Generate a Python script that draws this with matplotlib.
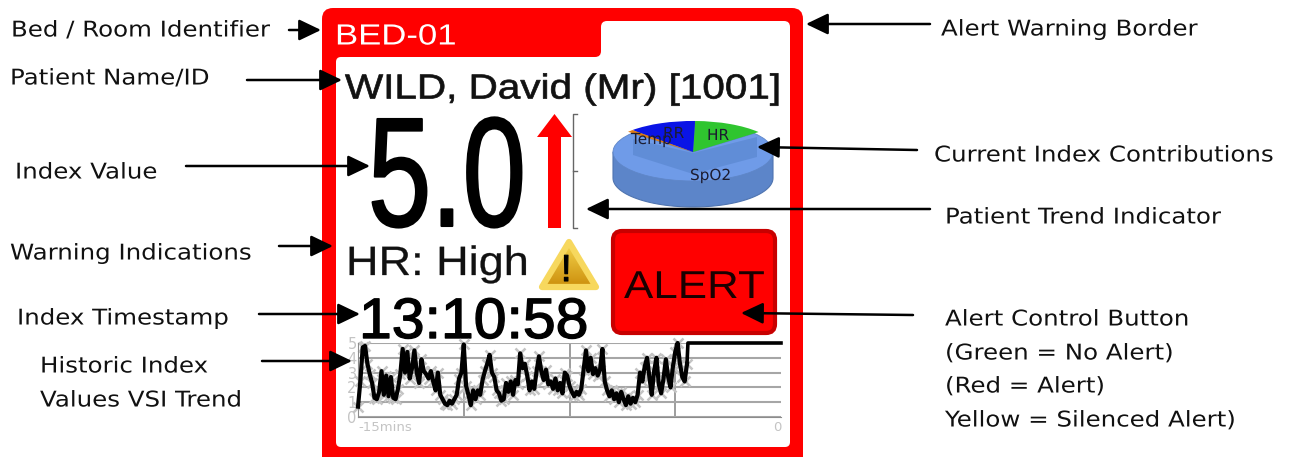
import numpy as np
import matplotlib
matplotlib.use("Agg")
import matplotlib.pyplot as plt
from matplotlib.colors import LinearSegmentedColormap
from matplotlib.patches import FancyBboxPatch, Rectangle, Polygon
from matplotlib.patheffects import AbstractPathEffect
from matplotlib.transforms import Affine2D

W, H = 1289, 457

# last 15 minutes of the index, one sample every 5 seconds
vsi_values = [0.7, 2.4, 4.7, 4.8, 3.6, 2.9, 2.3, 1.3, 1.2, 1.7, 3.1, 1.5, 2.8, 1.4, 2.7, 1.3, 1.2, 1.9, 2.9, 4.6,
              3.0, 4.4, 2.6, 3.3, 4.5, 3.0, 2.3, 3.9, 3.1, 2.9, 2.6, 3.1, 2.4, 1.8, 3.0, 1.5, 1.2, 0.9, 0.8, 1.1,
              0.9, 1.2, 1.5, 2.6, 3.0, 4.9, 2.1, 1.5, 0.8, 1.8, 1.2, 1.8, 1.5, 2.5, 3.1, 3.6, 4.2, 3.0, 2.7, 1.8,
              1.6, 1.1, 1.2, 2.3, 1.7, 2.4, 1.5, 2.5, 2.2, 4.3, 3.3, 3.6, 2.8, 1.8, 2.4, 1.9, 3.1, 4.1, 3.1, 2.5,
              3.2, 2.2, 2.4, 1.9, 2.6, 1.8, 2.3, 1.6, 3.0, 2.8, 2.1, 1.7, 1.4, 1.7, 1.5, 1.9, 3.2, 4.5, 3.1, 4.0,
              2.9, 3.3, 2.8, 3.2, 4.6, 2.4, 1.8, 1.4, 1.8, 1.2, 1.6, 1.0, 1.7, 1.2, 0.8, 1.4, 0.9, 1.3, 1.0, 1.5,
              3.0, 2.4, 3.4, 4.0, 2.7, 1.5, 3.1, 4.0, 2.2, 1.6, 2.6, 3.9, 2.7, 2.0, 3.4, 4.4, 5.0, 3.6, 2.7, 2.4,
              3.6]
flat_value = 5.0
grid_minutes = [-11.25, -7.5, -3.75]
y_ticks = [0, 1, 2, 3, 4, 5]

pie_labels = ["HR", "RR", "Temp", "SpO2"]
pie_values = [13.5, 12.9, 1.2, 72.4]
pie_colors = ["#2fc52f", "#0a14e6", "#e07a10", "#6f9be8"]

left_notes = [("Bed / Room Identifier", 11, 29), ("Patient Name/ID", 10, 77), ("Index Value", 15, 171),
              ("Warning Indications", 10, 252), ("Index Timestamp", 17, 317),
              ("Historic Index", 40, 365), ("Values VSI Trend", 40, 399)]
right_notes = [("Alert Warning Border", 941, 28), ("Current Index Contributions", 934, 154),
               ("Patient Trend Indicator", 945, 216), ("Alert Control Button", 945, 318),
               ("(Green = No Alert)", 945, 352), ("(Red = Alert)", 945, 385),
               ("Yellow = Silenced Alert)", 945, 419)]
arrows = [(289, 30, 321, 30), (247, 80, 342, 80), (930, 24, 806, 24), (186, 166, 370, 166),
          (917, 150, 757, 147), (930, 209, 586, 209), (279, 246, 333, 246), (259, 314, 360, 314),
          (262, 361, 352, 361), (913, 315, 741, 313)]


# the source screenshot is stretched sideways, so squeeze/stretch the text outlines the same way
class Stretch(AbstractPathEffect):
    def __init__(self, sx, x0, stroke=0):
        super().__init__()
        self.sx, self.x0, self.stroke = sx, x0, stroke

    def draw_path(self, renderer, gc, tpath, affine, rgbFace=None):
        aff = affine + Affine2D().translate(-self.x0, 0).scale(self.sx, 1).translate(self.x0, 0)
        gc0 = renderer.new_gc()
        gc0.copy_properties(gc)
        if self.stroke and rgbFace is not None:
            gc0.set_foreground(rgbFace)
            gc0.set_linewidth(self.stroke)
        renderer.draw_path(gc0, tpath, aff, rgbFace)
        gc0.restore()


def overlay():
    a = fig.add_axes([0, 0, 1, 1])
    a.set_xlim(0, W)
    a.set_ylim(H, 0)
    a.axis("off")
    return a


def stext(a, x, y, s, size, sx, stroke=0, color="#111111", family=("Liberation Sans", "DejaVu Sans")):
    t = a.text(x, y, s, fontsize=size, family=list(family), va="baseline", color=color)
    t.set_path_effects([Stretch(sx, x, stroke)])
    return t


fig = plt.figure(figsize=(W / 100, H / 100), dpi=100, facecolor="white")
ax = overlay()

# panel with the red alert border and the bed tab
ax.add_patch(FancyBboxPatch((332, 18), 461, 460, boxstyle="round,pad=10,rounding_size=11", fc="#ff0000", ec="none"))
ax.add_patch(FancyBboxPatch((340, 61), 446, 382, boxstyle="round,pad=4,rounding_size=5", fc="white", ec="none"))
ax.add_patch(FancyBboxPatch((605, 25), 181, 50, boxstyle="round,pad=4,rounding_size=6", fc="white", ec="none"))
ax.add_patch(Rectangle((590, 48), 20, 12, fc="white", ec="none"))
ax.add_patch(FancyBboxPatch((335, 20), 260, 31, boxstyle="round,pad=6,rounding_size=6", fc="#ff0000", ec="none"))
stext(ax, 335, 44.5, "BED-01", 21, 1.19, color="white")
stext(ax, 345, 98.5, "WILD, David (Mr) [1001]", 25, 1.165, stroke=0.5)

# index value
stext(ax, 368, 226, "5.0", 112, 0.73, stroke=1.5, color="black")
ax.add_patch(Polygon([(548, 228), (548, 137), (537, 137), (554.5, 114), (572, 137), (561, 137), (561, 228)],
                     fc="#ff0000", ec="none"))
ax.plot([577, 573, 573, 577], [114, 114, 228, 228], color="#666666", lw=1)
ax.plot([573, 577], [171, 171], color="#666666", lw=1)

# 3d pie
cx, cy, rx, ry, depth = 693, 152, 80, 29, 26
side = Polygon(np.vstack([[[cx - rx, cy], [cx + rx, cy]],
                          np.column_stack([cx + rx * np.cos(np.linspace(0, np.pi, 60)),
                                           cy + depth + ry * np.sin(np.linspace(0, np.pi, 60))])]),
               fc="#5c85c9", ec="#4f74b0", lw=0.8)
ax.add_patch(side)
side_img = ax.imshow(np.linspace(0, 1, 64).reshape(1, -1), extent=(cx - rx, cx + rx, cy + depth + ry, cy),
                     cmap=LinearSegmentedColormap.from_list("side", ["#6a94da", "#5a83cc", "#4f74b0"]), aspect="auto")
side_img.set_clip_path(side)
ax.set_xlim(0, W)
ax.set_ylim(H, 0)
pie_ax = fig.add_axes([(cx - rx * 1.25) / W, 1 - (cy + ry * 1.25) / H, rx * 2.5 / W, ry * 2.5 / H])
pie_ax.pie(pie_values, colors=pie_colors, startangle=40, radius=1.0,
           wedgeprops={"linewidth": 0.6, "edgecolor": "#5f86c8"})
pie_ax.pie(pie_values, colors=pie_colors[:3] + ["none"], startangle=40, radius=1.07,
           wedgeprops={"linewidth": 0})
pie_ax.set_aspect("auto")
pie_ax.set_xlim(-1.25, 1.25)
pie_ax.set_ylim(-1.25, 1.25)
pie_ax.patch.set_alpha(0)

top = overlay()
top.add_patch(Polygon([(633, 139), (693, 153), (757, 137), (757, 157), (693, 174), (633, 155)],
                      fc="#4f7cc4", ec="none", alpha=0.45))
for label, x, y in [("HR", 707, 140), ("RR", 663, 138), ("Temp", 631, 144), ("SpO2", 690, 180)]:
    stext(top, x, y, label, 11, 1.0, color="#1c1c30", family=("DejaVu Sans",))

# warning text and icon
stext(top, 346, 275, "HR: High", 29.5, 1.1, stroke=0.2)
tri = Polygon([(569, 242), (596, 287), (542, 287)], fc="#e3a81e", ec="none")
top.add_patch(tri)
img = top.imshow(np.linspace(1, 0, 64).reshape(-1, 1), extent=(538, 600, 290, 240),
                 cmap=LinearSegmentedColormap.from_list("gold", ["#c98a08", "#f7d850"]), aspect="auto", zorder=2)
img.set_clip_path(tri)
top.add_patch(Polygon([(569, 242), (596, 287), (542, 287)], fc="none", ec="#f7d85e", lw=4.5, joinstyle="round", zorder=2.5))
top.set_xlim(0, W)
top.set_ylim(H, 0)
stext(top, 561, 281, "!", 27, 1.0, stroke=0.8, color="black").set_zorder(3)

# alert button
top.add_patch(FancyBboxPatch((620, 238), 148, 88, boxstyle="round,pad=7,rounding_size=9",
                             fc="#ff0000", ec="#c80000", lw=3))
stext(top, 624, 298, "ALERT", 28, 1.13, color="#1a0000")

# timestamp
stext(top, 359, 338, "13:10:58", 41, 1.035, stroke=1.0, color="black")

# trend chart
trend = fig.add_axes([358 / W, 1 - 417 / H, 423 / W, 74 / H])
minutes = -15 + np.arange(len(vsi_values)) * 5 / 60
trend.plot(minutes, vsi_values, ls="none", marker="x", ms=7, mew=1.8, color="#c4c4c4", zorder=2, clip_on=False)
trend.plot(minutes, vsi_values, color="black", lw=3.0, zorder=3, clip_on=False)
trend.plot([minutes[-1], -3.3, 0], [vsi_values[-1], flat_value, flat_value], color="black", lw=2.6, zorder=3, clip_on=False)
trend.set_xlim(-15, 0)
trend.set_ylim(0, 5)
trend.set_yticks(y_ticks)
trend.set_xticks([-15, 0])
trend.set_xticklabels(["-15mins", "0"])
trend.get_xticklabels()[0].set_ha("left")
trend.get_xticklabels()[1].set_ha("right")
trend.tick_params(length=0, labelcolor="#c4c4c4", labelsize=9.5, pad=3)
trend.tick_params(axis="y", labelsize=10.5, pad=1)
trend.grid(axis="y", color="#a6a6a6", lw=1.5)
for m in grid_minutes:
    trend.axvline(m, color="#8c8c8c", lw=1.2, zorder=1)
for s in ["top", "right"]:
    trend.spines[s].set_visible(False)
for s in ["left", "bottom"]:
    trend.spines[s].set_color("#8c8c8c")
trend.patch.set_alpha(0)

# notes and arrows go over everything
notes = overlay()
for label, x, y in left_notes + right_notes:
    stext(notes, x, y + 7.5, label, 15.6, 1.13, family=("DejaVu Sans",))
for x0, y0, x1, y1 in arrows:
    notes.annotate("", xy=(x1, y1), xytext=(x0, y0),
                   arrowprops=dict(arrowstyle="-|>,head_length=0.75,head_width=0.36", color="black", lw=1.8,
                                   shrinkA=0, shrinkB=0, mutation_scale=18))

fig.savefig("out.png", dpi=100)
